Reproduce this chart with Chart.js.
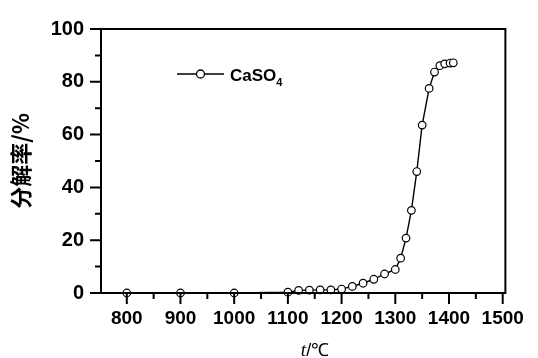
<!DOCTYPE html>
<html><head><meta charset="utf-8">
<script src="https://cdn.jsdelivr.net/npm/chart.js@4/dist/chart.umd.min.js"></script>
<style>html,body{margin:0;padding:0;background:#fff}#wrap{width:538px;height:358px}</style>
</head><body><div id="wrap"><canvas id="c" width="538" height="358"></canvas></div>
<script>
const temps = [800,900,1000,1100,1120,1140,1160,1180,1200,1220,1240,1260,1280,1300,1310,1320,1330,1340,1350,1363,1373,1383,1392,1402,1408];
const rates = [0,0,0,0.3,1.0,1.1,1.2,1.2,1.5,2.5,3.7,5.2,7.2,8.9,13.2,20.8,31.3,46,63.6,77.5,83.7,86.1,86.8,87.1,87.2];
const xMajorTicks = [800,900,1000,1100,1200,1300,1400,1500];
const xMinorTicks = [850,950,1050,1150,1250,1350,1450];
const yMajorTicks = [0,20,40,60,80,100];
const yMinorTicks = [10,30,50,70,90];
const seriesName = 'CaSO';
const seriesSub = '4';
const yTitle = '分解率/%';

const framePlugin = {
  id: 'frame',
  afterDraw(chart) {
    const ctx = chart.ctx, a = chart.chartArea;
    const xs = chart.scales.x, ys = chart.scales.y;
    ctx.save();
    ctx.strokeStyle = '#000';
    ctx.lineWidth = 2;
    ctx.strokeRect(a.left, a.top, a.right - a.left, a.bottom - a.top);
    ctx.beginPath();
    xMajorTicks.forEach(v => { const p = xs.getPixelForValue(v); ctx.moveTo(p, a.bottom); ctx.lineTo(p, a.bottom + 11); });
    xMinorTicks.forEach(v => { const p = xs.getPixelForValue(v); ctx.moveTo(p, a.bottom); ctx.lineTo(p, a.bottom + 6); });
    yMajorTicks.forEach(v => { const p = ys.getPixelForValue(v); ctx.moveTo(a.left, p); ctx.lineTo(a.left - 11, p); });
    yMinorTicks.forEach(v => { const p = ys.getPixelForValue(v); ctx.moveTo(a.left, p); ctx.lineTo(a.left - 6, p); });
    ctx.stroke();
    // legend
    const lx = a.left + 76, ly = a.top + 45;
    ctx.lineWidth = 1.3;
    ctx.beginPath(); ctx.moveTo(lx, ly); ctx.lineTo(lx + 47, ly); ctx.stroke();
    ctx.beginPath(); ctx.arc(lx + 23.5, ly, 4, 0, Math.PI * 2);
    ctx.fillStyle = '#fff'; ctx.fill(); ctx.stroke();
    ctx.fillStyle = '#000';
    ctx.textBaseline = 'alphabetic';
    ctx.font = 'bold 17px "Liberation Sans", Arial, sans-serif';
    ctx.fillText(seriesName, lx + 53, ly + 7);
    const w = ctx.measureText(seriesName).width;
    ctx.font = 'bold 11px "Liberation Sans", Arial, sans-serif';
    ctx.fillText(seriesSub, lx + 53 + w, ly + 12);
    // x title
    const cx = 315, by = 356;
    ctx.font = 'italic 19px "Liberation Serif", "Times New Roman", serif';
    const tw = ctx.measureText('t').width;
    ctx.font = '18px "Liberation Sans", Arial, sans-serif';
    const rest = '/\u2103';
    const rw = ctx.measureText(rest).width;
    const x0 = cx - (tw + rw) / 2;
    ctx.font = 'italic 19px "Liberation Serif", "Times New Roman", serif';
    ctx.fillText('t', x0, by);
    ctx.font = '18px "Liberation Sans", Arial, sans-serif';
    ctx.fillText(rest, x0 + tw, by);
    ctx.restore();
  }
};

new Chart(document.getElementById('c'), {
  type: 'line',
  data: {
    datasets: [{
      label: seriesName + seriesSub,
      data: temps.map((t, i) => ({ x: t, y: rates[i] })),
      borderColor: '#000',
      borderWidth: 1.4,
      pointRadius: 3.8,
      pointBorderWidth: 1.2,
      pointBackgroundColor: '#fff',
      pointBorderColor: '#000',
      tension: 0,
      clip: false
    }]
  },
  options: {
    responsive: false,
    animation: false,
    layout: { padding: { top: 24, right: 25, left: 0, bottom: 0 } },
    plugins: { legend: { display: false }, tooltip: { enabled: false } },
    scales: {
      x: {
        type: 'linear', min: 752, max: 1505,
        afterBuildTicks: s => { s.ticks = xMajorTicks.map(v => ({ value: v })); },
        afterFit: s => { s.height = 65; },
        grid: { display: false, drawTicks: false },
        border: { display: false },
        ticks: { color: '#000', padding: 14, maxRotation: 0, autoSkip: false,
          callback: v => String(v),
          font: { family: '"Liberation Sans", Arial, sans-serif', size: 19, weight: 'bold' } }
      },
      y: {
        type: 'linear', min: 0, max: 100,
        afterBuildTicks: s => { s.ticks = yMajorTicks.map(v => ({ value: v })); },
        afterFit: s => { s.width = 101; },
        grid: { display: false, drawTicks: false },
        border: { display: false },
        ticks: { color: '#000', padding: 17,
          callback: v => String(v),
          font: { family: '"Liberation Sans", Arial, sans-serif', size: 20, weight: 'bold' } },
        title: { display: true, text: yTitle, color: '#000', padding: { top: 7, bottom: 0 },
          font: { family: '"Noto Sans CJK SC", sans-serif', size: 22, weight: 'bold' } }
      }
    }
  },
  plugins: [framePlugin]
});
</script></body></html>
